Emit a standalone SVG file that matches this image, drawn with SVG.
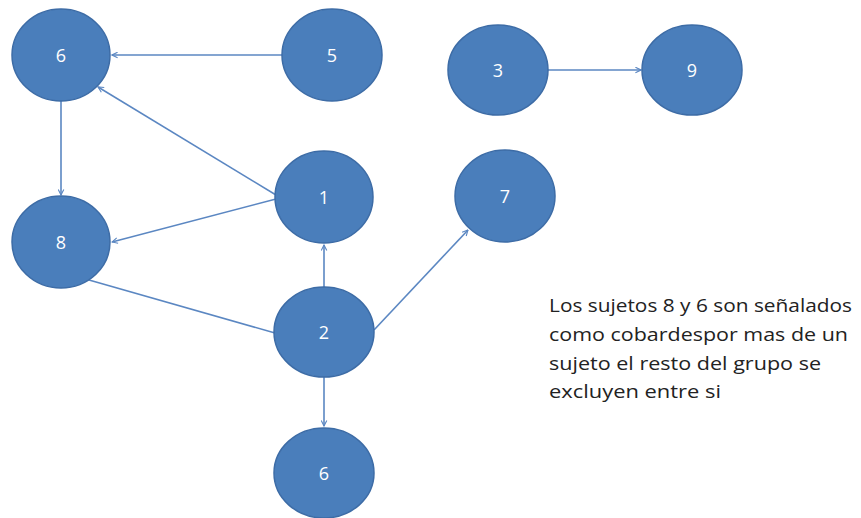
<svg xmlns="http://www.w3.org/2000/svg" width="861" height="518" viewBox="0 0 861 518">
<defs>
<style>
.n ellipse{fill:#4a7ebb;stroke:#3d6ca6;stroke-width:1.5}
.n text{fill:#fff;font-family:"Open Sans","Liberation Sans",sans-serif;font-size:18px;text-anchor:middle;dominant-baseline:central}
.c line{stroke:#5b87c2;stroke-width:1.6;fill:none}
.a{marker-end:url(#ar)}
.note{font-family:"Open Sans","Liberation Sans",sans-serif;font-size:19px;fill:#222}
</style>
<marker id="ar" viewBox="0 0 10 10" refX="9" refY="5" markerWidth="7" markerHeight="7" markerUnits="userSpaceOnUse" orient="auto">
<path d="M1,1 L9,5 L1,9" fill="none" stroke="#5b87c2" stroke-width="1.6"/>
</marker>
</defs>
<rect width="861" height="518" fill="#fff"/>
<g class="c">
<line class="a" x1="282" y1="55" x2="112" y2="55"/>
<line class="a" x1="276" y1="195" x2="98" y2="87"/>
<line class="a" x1="276" y1="199" x2="112" y2="242"/>
<line class="a" x1="61" y1="101" x2="61" y2="195"/>
<line class="a" x1="324" y1="287" x2="324" y2="245"/>
<line x1="89" y1="280" x2="275" y2="333"/>
<line class="a" x1="374" y1="330" x2="468" y2="230"/>
<line class="a" x1="324" y1="377" x2="324" y2="426"/>
<line class="a" x1="548" y1="70" x2="641" y2="70"/>
</g>
<g id="n6a" class="n"><ellipse cx="61" cy="55" rx="49" ry="46"/><text x="61" y="55">6</text></g>
<g id="n5" class="n"><ellipse cx="332" cy="55" rx="50" ry="46"/><text x="332" y="55">5</text></g>
<g id="n1" class="n"><ellipse cx="324" cy="197" rx="49" ry="46"/><text x="324" y="197">1</text></g>
<g id="n8" class="n"><ellipse cx="61" cy="242" rx="49" ry="46"/><text x="61" y="242">8</text></g>
<g id="n2" class="n"><ellipse cx="324" cy="332" rx="50" ry="45"/><text x="324" y="332">2</text></g>
<g id="n6b" class="n"><ellipse cx="324" cy="473" rx="50" ry="45"/><text x="324" y="473">6</text></g>
<g id="n3" class="n"><ellipse cx="498" cy="70" rx="50" ry="45"/><text x="498" y="70">3</text></g>
<g id="n9" class="n"><ellipse cx="692" cy="70" rx="50" ry="45"/><text x="692" y="70">9</text></g>
<g id="n7" class="n"><ellipse cx="505" cy="196" rx="50" ry="46"/><text x="505" y="196">7</text></g>
<g id="note" class="note">
<text x="549" y="312" textLength="303" lengthAdjust="spacingAndGlyphs">Los sujetos 8 y 6 son señalados</text>
<text x="549" y="341" textLength="299" lengthAdjust="spacingAndGlyphs">como cobardespor mas de un</text>
<text x="549" y="370" textLength="272" lengthAdjust="spacingAndGlyphs">sujeto el resto del grupo se</text>
<text x="549" y="398" textLength="172" lengthAdjust="spacingAndGlyphs">excluyen entre si</text>
</g>
</svg>
